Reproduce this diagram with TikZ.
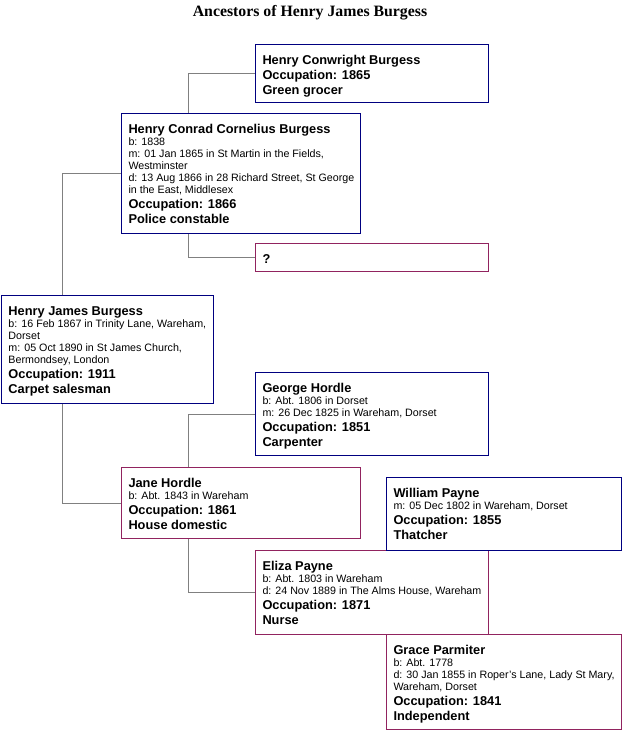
\documentclass[tikz,border=0pt]{standalone}
\usepackage{fontspec}
\setmainfont{Liberation Sans}
\newfontfamily\titlefont{Liberation Serif}
\definecolor{mblue}{RGB}{0,0,128}
\definecolor{mred}{RGB}{145,35,95}
\definecolor{cgray}{RGB}{128,128,128}
\newcommand{\bfnt}{\fontsize{12.8}{15}\selectfont\bfseries}
\newcommand{\smfnt}{\fontsize{10.7}{12}\selectfont}
\newcommand{\Lb}[1]{\hbox{\bfnt\vrule height11pt depth4pt width0pt #1}}
\newcommand{\Ls}[1]{\hbox{\smfnt\vrule height8pt depth4pt width0pt #1}}
\newcommand{\famtext}[3]{\vbox to #2{\offinterlineskip\hrule height0pt width #1\vskip9pt\hbox{\hskip7pt\vbox{#3}}\vss}}
\tikzset{
  famm/.style={draw=mblue, line width=1pt, fill=white, inner sep=0pt, anchor=north west},
  famf/.style={draw=mred, line width=1pt, fill=white, inner sep=0pt, anchor=north west},
  conn/.style={draw=cgray, line width=1pt},
}
\begin{document}
\begin{tikzpicture}[x=1pt,y=-1pt]
\useasboundingbox[fill=white] (0,0) rectangle (622,731);
\node[anchor=base, font=\titlefont\bfseries\fontsize{15.8}{18}\selectfont] (title) at (310,16) {Ancestors of Henry James Burgess};

\node[famm] (hcb) at (255,44) {\famtext{233pt}{58pt}{\Lb{Henry Conwright Burgess}\Lb{Occupation: 1865}\Lb{Green grocer}}};

\node[famm] (hccb) at (121,113) {\famtext{239pt}{120pt}{\Lb{Henry Conrad Cornelius Burgess}\Ls{b: 1838}\Ls{m: 01 Jan 1865 in St Martin in the Fields,}\Ls{Westminster}\Ls{d: 13 Aug 1866 in 28 Richard Street, St George}\Ls{in the East, Middlesex}\Lb{Occupation: 1866}\Lb{Police constable}}};

\node[famf] (q) at (255,243) {\famtext{233pt}{28pt}{\Lb{?}}};

\node[famm] (hjb) at (1,295) {\famtext{212pt}{108pt}{\Lb{Henry James Burgess}\Ls{b: 16 Feb 1867 in Trinity Lane, Wareham,}\Ls{Dorset}\Ls{m: 05 Oct 1890 in St James Church,}\Ls{Bermondsey, London}\Lb{Occupation: 1911}\Lb{Carpet salesman}}};

\node[famm] (gh) at (255,372) {\famtext{233pt}{83pt}{\Lb{George Hordle}\Ls{b: Abt. 1806 in Dorset}\Ls{m: 26 Dec 1825 in Wareham, Dorset}\Lb{Occupation: 1851}\Lb{Carpenter}}};

\node[famf] (jh) at (121,467) {\famtext{239pt}{71pt}{\Lb{Jane Hordle}\Ls{b: Abt. 1843 in Wareham}\Lb{Occupation: 1861}\Lb{House domestic}}};

\node[famf] (ep) at (255,550) {\famtext{233pt}{84pt}{\Lb{Eliza Payne}\Ls{b: Abt. 1803 in Wareham}\Ls{d: 24 Nov 1889 in The Alms House, Wareham}\Lb{Occupation: 1871}\Lb{Nurse}}};

\node[famm] (wp) at (386,477) {\famtext{235pt}{73pt}{\Lb{William Payne}\Ls{m: 05 Dec 1802 in Wareham, Dorset}\Lb{Occupation: 1855}\Lb{Thatcher}}};

\node[famf] (gp) at (386,634) {\famtext{235pt}{95pt}{\Lb{Grace Parmiter}\Ls{b: Abt. 1778}\Ls{d: 30 Jan 1855 in Roper's Lane, Lady St Mary,}\Ls{Wareham, Dorset}\Lb{Occupation: 1841}\Lb{Independent}}};

\draw[conn] ([xshift=67pt]hccb.north west) |- (hcb.west);
\draw[conn] ([xshift=67pt]hccb.south west) |- (q.west);
\draw[conn] ([xshift=61pt]hjb.north west) |- (hccb.west);
\draw[conn] ([xshift=61pt]hjb.south west) |- (jh.west);
\draw[conn] ([xshift=67pt]jh.north west) |- (gh.west);
\draw[conn] ([xshift=67pt]jh.south west) |- (ep.west);
\end{tikzpicture}
\end{document}
